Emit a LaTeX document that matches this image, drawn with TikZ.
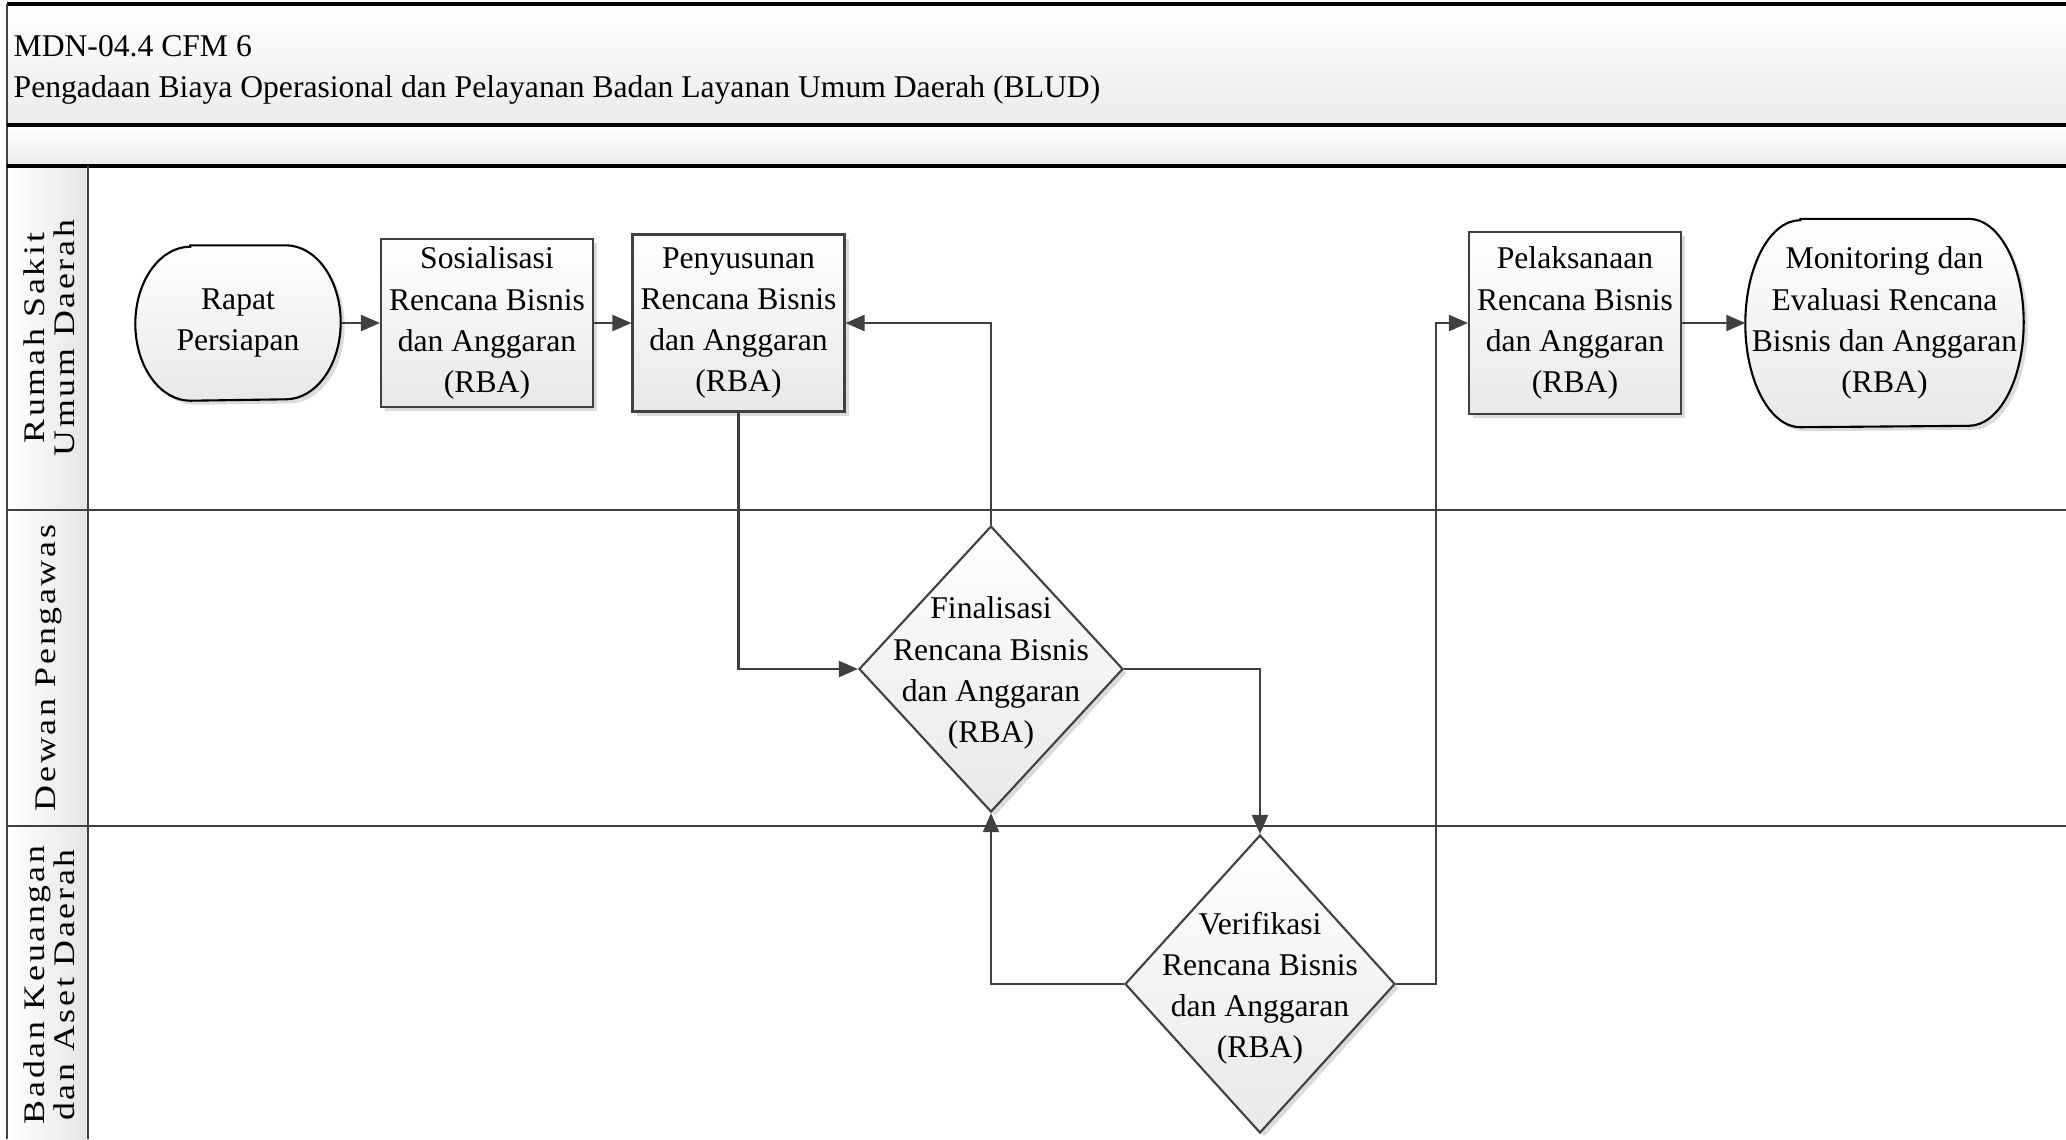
\documentclass[tikz,border=0pt]{standalone}
\usepackage{fontspec}
\setmainfont{Liberation Serif}
\newfontfamily\lanefont[FakeStretch=1.2, LetterSpace=9]{Liberation Serif}
\usetikzlibrary{arrows.meta, shapes.geometric, shadows, backgrounds}

% outline of a terminal (rounded ends) round a named text node
\newcommand{\termoutline}[3]{%
  \draw[term] ([xshift=#2]#1.north west) -- ([xshift=-#2]#1.north east)
    arc[start angle=90, end angle=-90, x radius=#2, y radius=#3]
    -- ([xshift=#2]#1.south west)
    arc[start angle=270, end angle=90, x radius=#2, y radius=#3] -- cycle;}

\begin{document}
\begin{tikzpicture}[
    txt/.style       = {font=\fontsize{9}{11.7}\selectfont, align=center},
    heading/.style   = {font=\fontsize{9}{11.7}\selectfont, inner sep=0pt, anchor=base west},
    shade/.style     = {top color=white, bottom color=black!9,
                        drop shadow={shadow xshift=0.04cm, shadow yshift=-0.04cm,
                                     fill=black!14, opacity=1}},
    proc/.style      = {rectangle, draw=black!75, line width=0.6pt, shade,
                        minimum width=2.12cm, inner sep=1pt, txt},
    decision/.style  = {diamond, draw=black!75, line width=0.6pt, shade, inner sep=0pt},
    termbox/.style   = {rectangle, inner sep=0pt, txt},
    term/.style      = {draw=black, line width=0.6pt, shade},
    flow/.style      = {draw=black!75, line width=0.6pt,
                        -{Triangle[length=0.19cm, width=0.16cm]}},
    frame/.style     = {line width=0.9pt, black},
    lane/.style      = {line width=0.75pt, black!75},
    lanelabel/.style = {rotate=90, align=center,
                        font=\lanefont\fontsize{8.5}{8.6}\selectfont}
]
\useasboundingbox (0,0) rectangle (20.66,-11.39);

% ========= pool frame =========
\fill[top color=white, bottom color=black!8] (0.07,-0.04) rectangle (20.66,-1.25);
\fill[top color=white, bottom color=black!8] (0.07,-1.25) rectangle (20.66,-1.66);
\fill[left color=white, right color=black!10] (0.07,-1.66) rectangle (0.88,-11.39);
\draw[frame] (20.66,-0.04) -- (0.07,-0.04);
\draw[lane]  (0.07,-0.04) -- (0.07,-11.39);
\draw[frame] (0.07,-1.25) -- (20.66,-1.25);
\draw[frame] (0.07,-1.66) -- (20.66,-1.66);
\draw[lane]  (0.88,-1.66) -- (0.88,-11.39);
\draw[lane]  (0.07,-5.10) -- (20.66,-5.10);
\draw[lane]  (0.07,-8.26) -- (20.66,-8.26);

\node[heading] (kode)  at (0.13,-0.56) {MDN-04.4 CFM 6};
\node[heading] (judul) at (0.13,-0.97)
    {Pengadaan Biaya Operasional dan Pelayanan Badan Layanan Umum Daerah (BLUD)};

% ========= lane labels =========
\node[lanelabel] (rsud)  at (0.49,-3.38) {Rumah Sakit\\Umum Daerah};
\node[lanelabel] (dewas) at (0.49,-6.68) {Dewan Pengawas};
\node[lanelabel] (bkad)  at (0.49,-9.85) {Badan Keuangan\\dan Aset Daerah};

% ========= activities =========
\node[termbox, minimum width=2.04cm, minimum height=1.54cm] (rapat) at (2.38,-3.23)
    {Rapat\\Persiapan};
\node[proc, minimum height=1.68cm] (sosialisasi) at (4.87,-3.23)
    {Sosialisasi\\Rencana Bisnis\\dan Anggaran\\(RBA)};
\node[proc, minimum height=1.77cm] (penyusunan) at (7.385,-3.23)
    {Penyusunan\\Rencana Bisnis\\dan Anggaran\\(RBA)};
\node[proc, minimum height=1.82cm] (pelaksanaan) at (15.75,-3.23)
    {Pelaksanaan\\Rencana Bisnis\\dan Anggaran\\(RBA)};
\node[termbox, minimum width=2.77cm, minimum height=2.07cm] (monev) at (18.845,-3.23)
    {Monitoring dan\\Evaluasi Rencana\\Bisnis dan Anggaran\\(RBA)};

\node[decision, minimum width=2.64cm, minimum height=2.86cm,
      label={[txt, yshift=-0.04cm]center:Finalisasi\\Rencana Bisnis\\dan Anggaran\\(RBA)}]
    (finalisasi) at (9.91,-6.69) {};
\node[decision, minimum width=2.70cm, minimum height=2.98cm,
      label={[txt, yshift=-0.04cm]center:Verifikasi\\Rencana Bisnis\\dan Anggaran\\(RBA)}]
    (verifikasi) at (12.60,-9.84) {};

\begin{scope}[on background layer]
  \termoutline{rapat}{0.55cm}{0.77cm}
  \termoutline{monev}{0.55cm}{1.035cm}
\end{scope}

% ========= flow =========
\draw[flow] (rapat.east)       -- (sosialisasi.west);
\draw[flow] (sosialisasi.east) -- (penyusunan.west);
\draw[flow] (penyusunan.south) |- (finalisasi.west);
\draw[flow] (finalisasi.north) |- (penyusunan.east);
\draw[flow] (finalisasi.east)  -| (verifikasi.north);
\draw[flow] (verifikasi.west)  -| (finalisasi.south);
\draw[flow] (verifikasi.east)  -- ++(0.40,0) |- (pelaksanaan.west);
\draw[flow] (pelaksanaan.east) -- (monev.west);

\end{tikzpicture}
\end{document}
